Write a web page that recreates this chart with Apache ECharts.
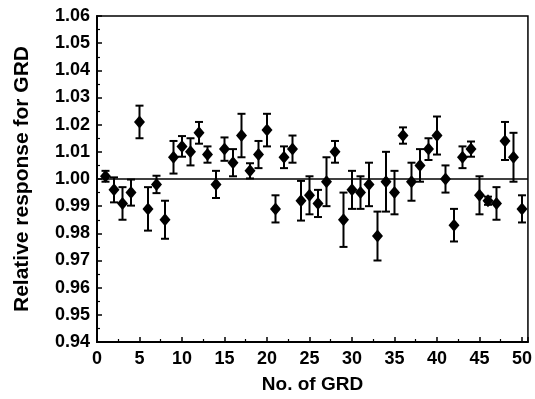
<!DOCTYPE html>
<html>
<head>
<meta charset="utf-8">
<script src="https://cdn.jsdelivr.net/npm/echarts@6/dist/echarts.min.js"></script>
<style>
  html, body { margin: 0; padding: 0; background: #fff; }
  #chart { width: 535px; height: 399px; }
</style>
</head>
<body>
<div id="chart"></div>
<script>
// GRD number 1..50
const grdNo = [1, 2, 3, 4, 5, 6, 7, 8, 9, 10, 11, 12, 13, 14, 15, 16, 17, 18, 19, 20,
  21, 22, 23, 24, 25, 26, 27, 28, 29, 30, 31, 32, 33, 34, 35, 36, 37, 38, 39, 40,
  41, 42, 43, 44, 45, 46, 47, 48, 49, 50];
// relative response (diamonds)
const response = [1.001, 0.996, 0.991, 0.995, 1.021, 0.989, 0.998, 0.985, 1.008, 1.012,
  1.010, 1.017, 1.009, 0.998, 1.011, 1.006, 1.016, 1.003, 1.009, 1.018,
  0.989, 1.008, 1.011, 0.992, 0.994, 0.991, 0.999, 1.010, 0.985, 0.996,
  0.995, 0.998, 0.979, 0.999, 0.995, 1.016, 0.999, 1.005, 1.011, 1.016,
  1.000, 0.983, 1.008, 1.011, 0.994, 0.992, 0.991, 1.014, 1.008, 0.989];
// half length of error bar
const errors = [0.002, 0.0046, 0.006, 0.0048, 0.006, 0.008, 0.0032, 0.007, 0.006, 0.0038,
  0.005, 0.004, 0.003, 0.005, 0.0043, 0.005, 0.008, 0.0028, 0.005, 0.006,
  0.005, 0.004, 0.005, 0.0073, 0.007, 0.005, 0.009, 0.004, 0.010, 0.007,
  0.006, 0.008, 0.009, 0.011, 0.008, 0.003, 0.007, 0.006, 0.004, 0.007,
  0.005, 0.006, 0.004, 0.0028, 0.007, 0.0015, 0.006, 0.007, 0.009, 0.005];
const referenceLevel = 1.0;
const xRange = [0, 50.7];
const yRange = [0.94, 1.06];

const font = "'Liberation Sans', Arial, sans-serif";

const chart = echarts.init(document.getElementById("chart"));

const points = grdNo.map((n, i) => [n, response[i]]);
const bars = grdNo.map((n, i) => [n, response[i] - errors[i], response[i] + errors[i]]);

const option = {
  animation: false,
  grid: {
    left: 97,
    right: 1,
    top: 16,
    bottom: 56,
    show: true,
    borderColor: "#000",
    borderWidth: 1.5,
  },
  xAxis: {
    type: "value",
    min: xRange[0],
    max: xRange[1],
    interval: 5,
    name: "No. of GRD",
    nameLocation: "middle",
    nameGap: 33,
    nameTextStyle: { fontFamily: font, fontWeight: "bold", fontSize: 19, color: "#000" },
    axisLine: { lineStyle: { color: "#000", width: 2 } },
    axisTick: { inside: true, length: 5, lineStyle: { color: "#000", width: 1.5 } },
    minorTick: { show: true, splitNumber: 2, length: 3, lineStyle: { color: "#000", width: 1.2 } },
    splitLine: { show: false },
    axisLabel: {
      margin: 8,
      fontFamily: font,
      fontWeight: "bold",
      fontSize: 18,
      color: "#000",
      formatter: (v) => (v % 5 === 0 ? String(v) : ""),
    },
  },
  yAxis: {
    type: "value",
    min: yRange[0],
    max: yRange[1],
    interval: 0.01,
    name: "Relative response for GRD",
    nameLocation: "middle",
    nameGap: 64,
    nameTextStyle: { fontFamily: font, fontWeight: "bold", fontSize: 21, color: "#000" },
    axisLine: { lineStyle: { color: "#000", width: 2 } },
    axisTick: { inside: true, length: 5, lineStyle: { color: "#000", width: 1.5 } },
    minorTick: { show: true, splitNumber: 2, length: 3, lineStyle: { color: "#000", width: 1.2 } },
    splitLine: { show: false },
    axisLabel: {
      margin: 7,
      fontFamily: font,
      fontWeight: "bold",
      fontSize: 18,
      color: "#000",
      formatter: (v) => v.toFixed(2),
    },
  },
  series: [
    {
      type: "custom",
      data: bars,
      silent: true,
      renderItem: (params, api) => {
        const x = api.value(0);
        const lo = api.coord([x, api.value(1)]);
        const hi = api.coord([x, api.value(2)]);
        const cap = 4;
        const st = { stroke: "#000", lineWidth: 2 };
        return {
          type: "group",
          children: [
            { type: "line", shape: { x1: lo[0], y1: lo[1], x2: hi[0], y2: hi[1] }, style: st },
            { type: "line", shape: { x1: hi[0] - cap, y1: hi[1], x2: hi[0] + cap, y2: hi[1] }, style: st },
            { type: "line", shape: { x1: lo[0] - cap, y1: lo[1], x2: lo[0] + cap, y2: lo[1] }, style: st },
          ],
        };
      },
      z: 2,
    },
    {
      type: "scatter",
      data: points,
      symbol: "diamond",
      symbolSize: [11, 13],
      itemStyle: { color: "#000", opacity: 1 },
      silent: true,
      z: 3,
      markLine: {
        silent: true,
        symbol: ["none", "none"],
        label: { show: false },
        lineStyle: { color: "#000", width: 1.5, type: "solid", opacity: 1 },
        data: [{ yAxis: referenceLevel }],
      },
    },
  ],
};
chart.setOption(option);
</script>
</body>
</html>
